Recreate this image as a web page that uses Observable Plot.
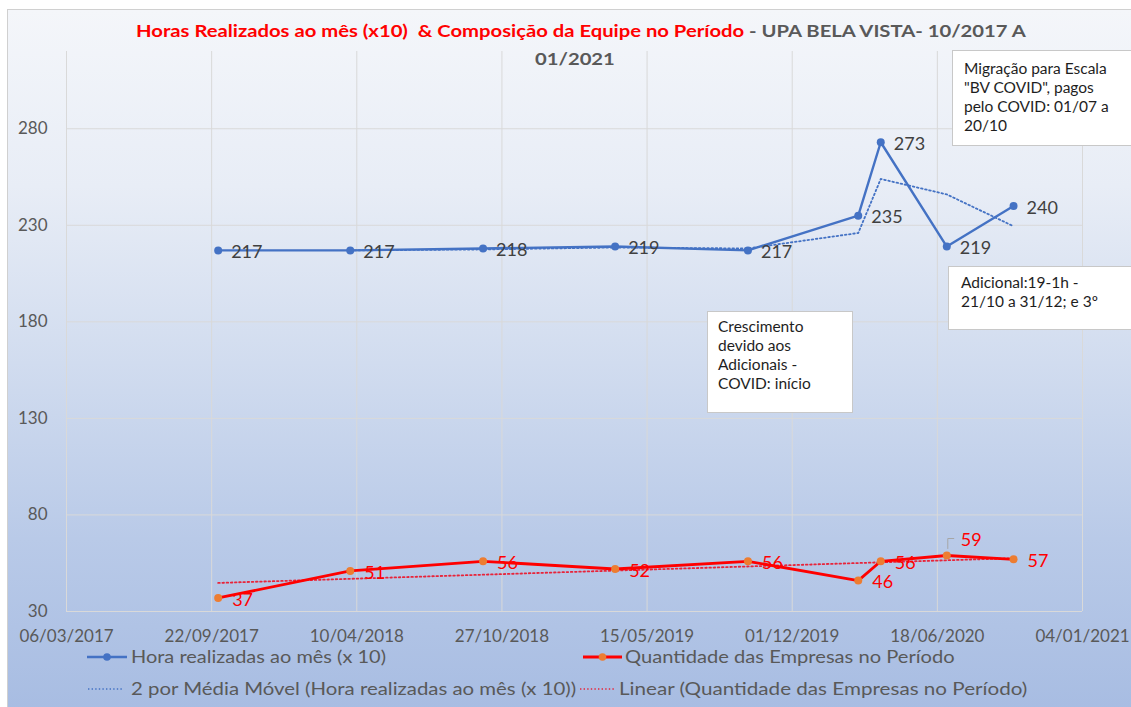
<!DOCTYPE html>
<html><head><meta charset="utf-8">
<script src="https://cdn.jsdelivr.net/npm/d3@7"></script>
<script src="https://cdn.jsdelivr.net/npm/@observablehq/plot@0.6"></script>
<style>
html,body{margin:0;padding:0;background:#fff;}
#wrap{position:relative;width:1131px;height:707px;overflow:hidden;font-family:Lato,"Open Sans",sans-serif;}
#bg{position:absolute;left:7px;top:9px;width:1135px;height:705px;border-left:1px solid #d0d0d0;border-top:1px solid #d0d0d0;
 background:linear-gradient(to bottom,#f4f6fa 0%,#e8edf6 25%,#d1dcef 50%,#b9cae8 75%,#a7bce2 100%);}
#plot{position:absolute;left:0;top:0;}
.t{position:absolute;white-space:pre;font-weight:bold;font-size:17px;color:#595959;transform-origin:0 50%;}
.note{position:absolute;background:#fff;border:1px solid #c8c8c8;box-sizing:border-box;color:#1e1e1e;font-size:15.5px;line-height:19px;white-space:nowrap;}
.lg{position:absolute;white-space:pre;font-size:16.5px;color:#595959;line-height:20px;transform-origin:0 50%;}
.sw{position:absolute;}
</style></head>
<body><div id="wrap"><div id="bg"></div></div>
<script>
// ---- data ----
const dates = ["2017-10-01","2018-04-01","2018-10-01","2019-04-01","2019-10-01","2020-03-01","2020-04-01","2020-07-01","2020-10-01"];
const horas = [217,217,218,219,217,235,273,219,240];          // Hora realizadas ao mês (x 10)
const empresas = [37,51,56,52,56,46,56,59,57];                // Quantidade das Empresas no Período
const mediaMovelDates = ["2018-04-01","2018-10-01","2019-04-01","2019-10-01","2020-03-01","2020-04-01","2020-07-01","2020-10-01"];
const mediaMovel = [217,217.5,218.5,218,226,254,246,229.5];    // 2 por Média Móvel
const linearDates = ["2017-10-01","2020-10-01"];
const linearValues = [44.8,57.6];                              // Linear trend
const xTickDates = ["2017-03-06","2017-09-22","2018-04-10","2018-10-27","2019-05-15","2019-12-01","2020-06-18","2021-01-04"];
const yTicks = [30,80,130,180,230,280];
const yDomain = [30,320];

const titleRed = "Horas Realizados ao mês (x10)  & Composição da Equipe no Período";
const titleGray = " - UPA BELA VISTA- 10/2017 A";
const titleLine2 = "01/2021";
const notes = [
  ["Migração para Escala", "\"BV COVID\", pagos", "pelo COVID: 01/07 a", "20/10"],
  ["Adicional:19-1h -", "21/10 a 31/12; e 3º"],
  ["Crescimento", "devido aos", "Adicionais -", "COVID: início"]
];
const legendLabels = ["Hora realizadas ao mês (x 10)","Quantidade das Empresas no Período",
  "2 por Média Móvel (Hora realizadas ao mês (x 10))","Linear (Quantidade das Empresas no Período)"];

// ---- build tables ----
const P = d3.utcParse("%Y-%m-%d");
const blue = dates.map((d,i)=>({date:P(d), v:horas[i]}));
const red = empresas.map((v,i)=>({date:P(dates[i]), v, i}));
const ma = mediaMovelDates.map((d,i)=>({date:P(d), v:mediaMovel[i]}));
const lin = linearDates.map((d,i)=>({date:P(d), v:linearValues[i]}));
const xTicks = xTickDates.map(P);
const BLUE="#4472c4", RED="#ff0000", ORANGE="#ed7d31";

const chart = Plot.plot({
  width:1131, height:707,
  marginLeft:66, marginRight:49, marginTop:51, marginBottom:96,
  style:{background:"transparent", fontFamily:"Lato, 'Open Sans', sans-serif", overflow:"visible"},
  x:{type:"utc", domain:[xTicks[0], xTicks[xTicks.length-1]]},
  y:{domain:yDomain},
  marks:[
    Plot.gridX(xTicks, {stroke:"#d9d9d9", strokeOpacity:1, strokeWidth:1}),
    Plot.gridY(yTicks, {stroke:"#d9d9d9", strokeOpacity:1, strokeWidth:1}),
    Plot.axisX(xTicks, {tickSize:0, tickPadding:18, tickFormat:d3.utcFormat("%d/%m/%Y"), fontSize:17, fill:"#595959", label:null}),
    Plot.axisY(yTicks, {tickSize:0, tickPadding:19, fontSize:17, fill:"#595959", label:null}),
    Plot.line(ma, {x:"date", y:"v", stroke:BLUE, strokeWidth:1.8, strokeDasharray:"1.6,2.6"}),
    Plot.line(lin, {x:"date", y:"v", stroke:"#e8243a", strokeWidth:1.8, strokeDasharray:"1.6,2.6"}),
    Plot.line(blue, {x:"date", y:"v", stroke:BLUE, strokeWidth:2.4}),
    Plot.dot(blue, {x:"date", y:"v", r:4, fill:BLUE, stroke:null}),
    Plot.line(red, {x:"date", y:"v", stroke:RED, strokeWidth:2.8}),
    Plot.dot(red, {x:"date", y:"v", r:4, fill:ORANGE, stroke:null}),
    Plot.text(blue, {x:"date", y:"v", text:d=>String(d.v), dx:13, dy:2, textAnchor:"start", fill:"#404040", fontSize:18}),
    Plot.text(red.filter(d=>d.v!==59), {x:"date", y:"v", text:d=>String(d.v), dx:14, dy:2, textAnchor:"start", fill:RED, fontSize:18}),
    Plot.text(red.filter(d=>d.v===59), {x:"date", y:"v", text:d=>String(d.v), dx:14, dy:-15, textAnchor:"start", fill:RED, fontSize:18}),
    // small callout leader of the "59" label
    Plot.line(red.filter(d=>d.v===59).flatMap(d=>[{...d,k:0},{...d,k:1}]),
      {x:"date", y:"v", stroke:"#a6a6a6", strokeWidth:1,
       render:(index, scales, values, dims, ctx, next)=>{
         const g = next(index, scales, values, dims, ctx);
         const x = values.x[0], y = values.y[0];
         g.querySelector("path").setAttribute("d", `M${x+1},${y-7}V${y-17}H${x+7}`);
         return g;
       }})
  ]
});
chart.id = "plot";
const wrap = document.getElementById("wrap");
wrap.appendChild(chart);

// title
const t1 = document.createElement("div");
t1.className = "t";
t1.innerHTML = `<span style="color:#ff0000">${titleRed}</span>${titleGray}`;
wrap.appendChild(t1);
const t2 = document.createElement("div");
t2.className = "t"; t2.textContent = titleLine2;
wrap.appendChild(t2);
function place(el, cx, cy, sx){
  el.style.transform = `scaleX(${sx})`;
  const r = el.getBoundingClientRect();
  el.style.left = (cx - r.width/2)+"px"; el.style.top = (cy - r.height/2)+"px";
}
place(t1, 581, 30, 1.19); place(t2, 575, 58, 1.19);

// notes
const noteBoxes = [
  {left:952, top:50, width:190, height:96, pl:11, pt:8},
  {left:948, top:266, width:195, height:64, pl:12, pt:6},
  {left:707, top:311, width:146, height:102, pl:10, pt:5}
];
notes.forEach((lines,i)=>{
  const b = noteBoxes[i];
  const d = document.createElement("div");
  d.className = "note";
  Object.assign(d.style, {left:b.left+"px", top:b.top+"px", width:b.width+"px", height:b.height+"px", padding:b.pt+"px 0 0 "+b.pl+"px"});
  d.innerHTML = lines.map(l=>l.replace(/&/g,"&amp;")).join("<br>");
  wrap.appendChild(d);
});

// legend
function swatch(x, y, color, width, dash, dot, w){
  const ns="http://www.w3.org/2000/svg";
  const s = document.createElementNS(ns,"svg");
  s.setAttribute("class","sw"); s.setAttribute("width", w); s.setAttribute("height", 12);
  s.style.left = x+"px"; s.style.top = (y-6)+"px";
  const l = document.createElementNS(ns,"line");
  l.setAttribute("x1",0); l.setAttribute("x2",w); l.setAttribute("y1",6); l.setAttribute("y2",6);
  l.setAttribute("stroke",color); l.setAttribute("stroke-width",width);
  if(dash) l.setAttribute("stroke-dasharray",dash);
  s.appendChild(l);
  if(dot){ const c=document.createElementNS(ns,"circle"); c.setAttribute("cx",w/2); c.setAttribute("cy",6); c.setAttribute("r",3.8); c.setAttribute("fill",dot); s.appendChild(c); }
  wrap.appendChild(s);
}
function ltext(x, cy, txt, sx){
  const d=document.createElement("div"); d.className="lg"; d.textContent=txt; wrap.appendChild(d);
  d.style.transform=`scaleX(${sx})`;
  const r=d.getBoundingClientRect(); d.style.left=x+"px"; d.style.top=(cy-r.height/2)+"px";
}
swatch(87,657,BLUE,2.4,null,BLUE,40); ltext(131,657,legendLabels[0],1.21);
swatch(583,657,RED,2.8,null,ORANGE,39); ltext(625,657,legendLabels[1],1.22);
swatch(88,689,BLUE,1.6,"1.4,2.2",null,35); ltext(131,689,legendLabels[2],1.235);
swatch(580,689,"#e8243a",1.6,"1.4,2.2",null,34); ltext(619,689,legendLabels[3],1.25);
</script></body></html>
